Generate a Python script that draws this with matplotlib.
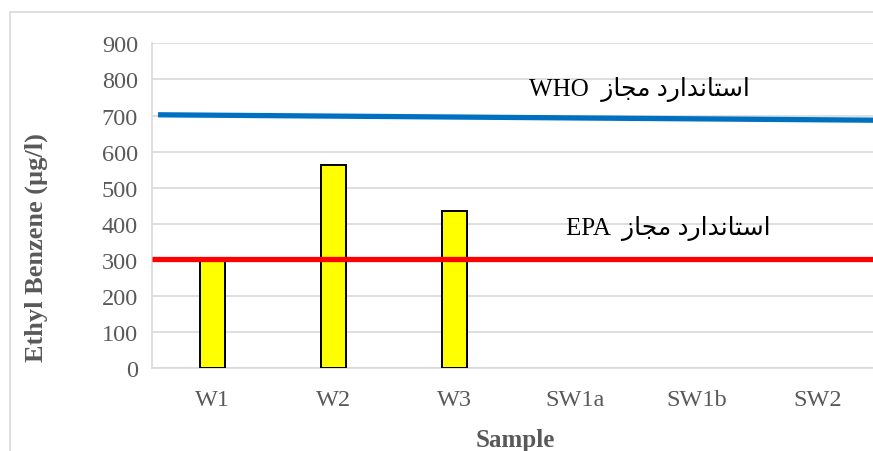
import matplotlib
matplotlib.use("Agg")
import matplotlib.pyplot as plt
from matplotlib.patches import Rectangle

# ---- data ----
samples = ["W1", "W2", "W3", "SW1a", "SW1b", "SW2"]
ethylbenzene = [300, 563, 435, 0, 0, 0]
who_limit = [702, 687]          # standard line, left end / right end
epa_limit = [304, 304]
who_label = "استاندارد مجاز WHO"
epa_label = "استاندارد مجاز EPA"
y_ticks = [0, 100, 200, 300, 400, 500, 600, 700, 800, 900]

# ---- minimal Arabic shaping (matplotlib has no contextual shaping) ----
# letter: (isolated, final, initial, medial); initial/medial None => right-joining only
FORMS = {
    "ا": ("\uFE8D", "\uFE8E", None, None),
    "د": ("\uFEA9", "\uFEAA", None, None),
    "ر": ("\uFEAD", "\uFEAE", None, None),
    "ز": ("\uFEAF", "\uFEB0", None, None),
    "س": ("\uFEB1", "\uFEB2", "\uFEB3", "\uFEB4"),
    "ت": ("\uFE95", "\uFE96", "\uFE97", "\uFE98"),
    "ن": ("\uFEE5", "\uFEE6", "\uFEE7", "\uFEE8"),
    "م": ("\uFEE1", "\uFEE2", "\uFEE3", "\uFEE4"),
    "ج": ("\uFE9D", "\uFE9E", "\uFE9F", "\uFEA0"),
}


def shape_word(word):
    out = []
    for i, ch in enumerate(word):
        if ch not in FORMS:
            out.append(ch)
            continue
        prev = word[i - 1] if i > 0 else None
        nxt = word[i + 1] if i + 1 < len(word) else None
        joins_prev = prev in FORMS and FORMS[prev][2] is not None
        can_fwd = FORMS[ch][2] is not None
        joins_next = can_fwd and nxt in FORMS
        iso, fin, ini, med = FORMS[ch]
        if joins_prev and joins_next:
            out.append(med)
        elif joins_prev:
            out.append(fin)
        elif joins_next:
            out.append(ini)
        else:
            out.append(iso)
    return "".join(out)


def visual(text):
    # Arabic words run right-to-left, Latin token stays left-to-right
    words = text.split(" ")
    arabic = [w for w in words if any(c in FORMS for c in w)]
    latin = [w for w in words if not any(c in FORMS for c in w)]
    rtl = " ".join(shape_word(w) for w in arabic)[::-1]
    return " ".join(latin) + "  " + rtl if latin else rtl


serif = "Liberation Serif"
grey = "#595959"

fig = plt.figure(figsize=(8.73, 4.52), dpi=100)
fig.patches.append(Rectangle((0.0115, -0.05), 1.05, 0.971 + 0.05,
                             transform=fig.transFigure, fill=False,
                             edgecolor="#D9D9D9", linewidth=1.2))

ax = fig.add_axes([0.1741, 0.183, 0.8316, 0.719])
x = list(range(len(samples)))
edges = ["black" if v > 0 else "none" for v in ethylbenzene]
ax.bar(x, ethylbenzene, width=0.21, color="#FFFF00", edgecolor=edges,
       linewidth=1.4, zorder=3)

ax.plot([-0.45, 5.5], who_limit, color="#0070C0", linewidth=3.8,
        solid_capstyle="butt", zorder=4)
ax.plot([-0.5, 5.5], epa_limit, color="#FF0000", linewidth=3.8,
        solid_capstyle="butt", zorder=4)

ax.set_xlim(-0.5, 5.5)
ax.set_ylim(0, 900)
ax.set_yticks(y_ticks)
ax.set_xticks(x)
ax.set_xticklabels(samples)
ax.grid(axis="y", color="#D9D9D9", linewidth=1.2, zorder=0)
ax.set_axisbelow(True)
for s in ["top", "right"]:
    ax.spines[s].set_visible(False)
ax.spines["left"].set_color("#D9D9D9")
ax.spines["bottom"].set_color("#D9D9D9")
ax.spines["left"].set_linewidth(1.2)
ax.spines["bottom"].set_linewidth(1.2)
ax.tick_params(axis="both", length=0, labelcolor=grey, labelsize=17.5)
ax.tick_params(axis="x", pad=15)
ax.tick_params(axis="y", pad=10)
for lab in ax.get_xticklabels() + ax.get_yticklabels():
    lab.set_family(serif)

ax.set_xlabel("Sample", family=serif, fontsize=18, fontweight="bold",
              color=grey, labelpad=13)
fig.text(0.041, 0.453, "Ethyl Benzene (µg/l)", rotation=90, family=serif,
         fontsize=19, fontweight="bold", color=grey, ha="center", va="center")

ax.text(3.525, 776, visual(who_label), family=[serif, "DejaVu Sans"],
        fontsize=18, color="black", ha="center", va="center")
ax.text(3.77, 391, visual(epa_label), family=[serif, "DejaVu Sans"],
        fontsize=18, color="black", ha="center", va="center")

fig.savefig("out.png", dpi=100)
